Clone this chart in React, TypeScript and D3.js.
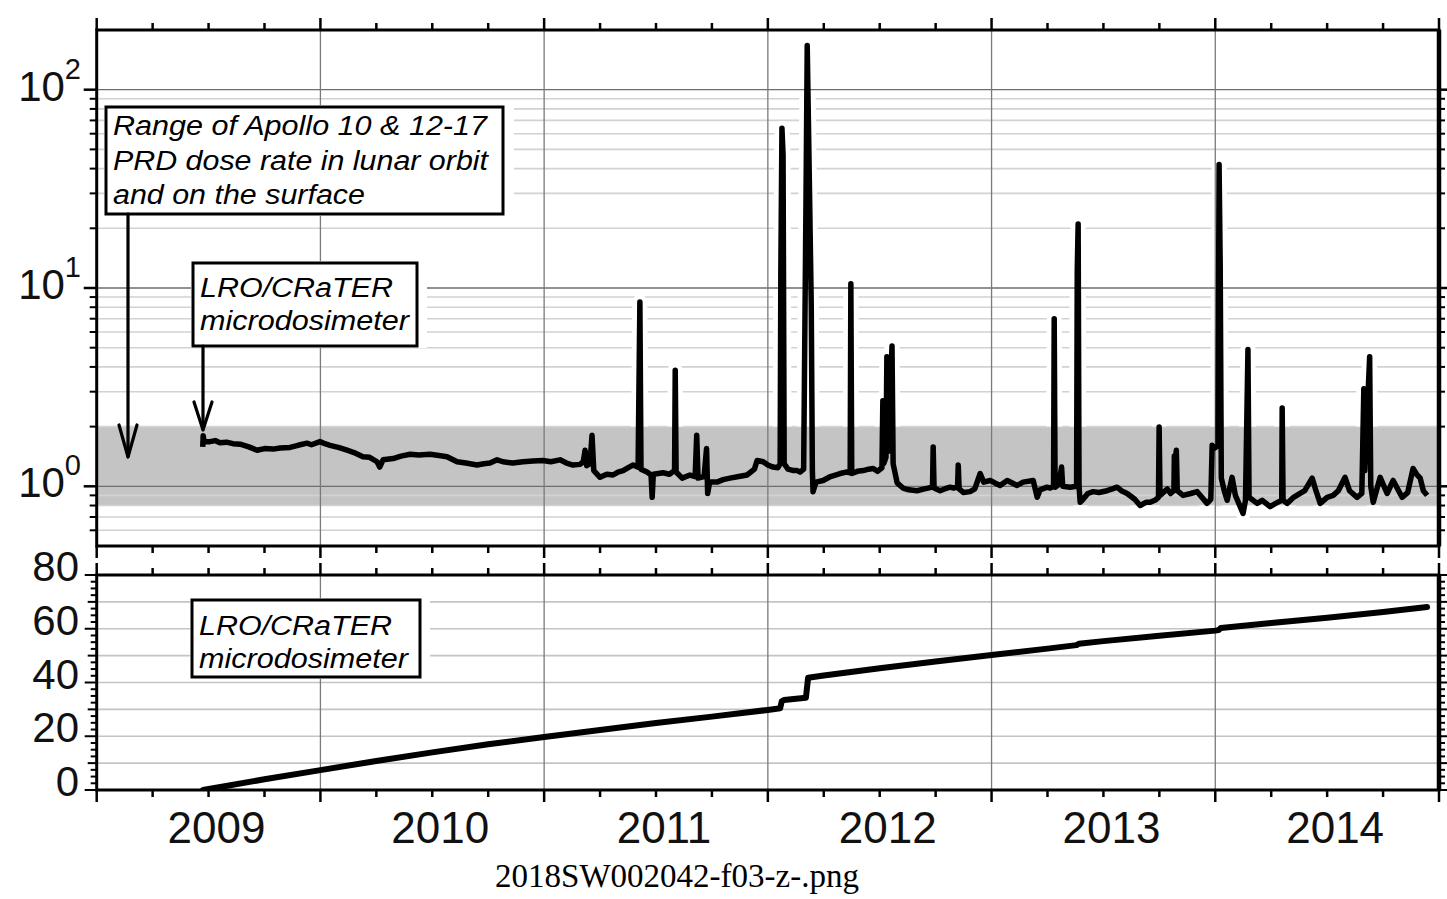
import React from 'react';
import * as d3 from 'd3';

// ---------- data ----------
const yearTicks = [2009, 2010, 2011, 2012, 2013, 2014, 2015];
const yearLabels = ['2009', '2010', '2011', '2012', '2013', '2014'];
const topMajorTicks = [1, 10, 100];
const topTickExponents = ['0', '1', '2'];
const topMinorTicks = [0.6, 0.7, 0.8, 0.9, 2, 3, 4, 5, 6, 7, 8, 9, 20, 30, 40, 50, 60, 70, 80, 90];
const bottomMajorTicks = [0, 20, 40, 60, 80];
const bottomGridValues = [10, 20, 30, 40, 50, 60, 70];
const apolloRange = [0.8, 2.0];

const apolloLines = ['Range of Apollo 10 & 12-17', 'PRD dose rate in lunar orbit', 'and on the surface'];
const craterLines = ['LRO/CRaTER', 'microdosimeter'];
const captionText = '2018SW002042-f03-z-.png';

// [decimal year, dose rate]
const doseRate: [number, number][] = [
  [2009.474, 1.58], [2009.476, 1.8], [2009.48, 1.68], [2009.506, 1.68], [2009.53, 1.7], [2009.551, 1.66],
  [2009.58, 1.67], [2009.609, 1.64], [2009.641, 1.63], [2009.68, 1.58], [2009.717, 1.52], [2009.75, 1.55],
  [2009.788, 1.54], [2009.82, 1.56], [2009.864, 1.57], [2009.9, 1.61], [2009.94, 1.65], [2009.96, 1.62],
  [2009.998, 1.68], [2010.02, 1.64], [2010.043, 1.61], [2010.08, 1.57], [2010.119, 1.52], [2010.15, 1.48],
  [2010.19, 1.41], [2010.22, 1.4], [2010.253, 1.33], [2010.265, 1.25], [2010.28, 1.36], [2010.325, 1.38],
  [2010.36, 1.42], [2010.401, 1.45], [2010.44, 1.44], [2010.49, 1.45], [2010.53, 1.43], [2010.566, 1.41],
  [2010.611, 1.33], [2010.65, 1.31], [2010.7, 1.28], [2010.73, 1.3], [2010.758, 1.31], [2010.79, 1.36],
  [2010.816, 1.33], [2010.86, 1.31], [2010.906, 1.33], [2010.95, 1.34], [2010.995, 1.35], [2011.03, 1.33],
  [2011.071, 1.36], [2011.1, 1.31], [2011.129, 1.28], [2011.16, 1.29], [2011.175, 1.33], [2011.183, 1.52],
  [2011.19, 1.27], [2011.205, 1.3], [2011.214, 1.81], [2011.222, 1.2], [2011.25, 1.11], [2011.28, 1.15],
  [2011.308, 1.14], [2011.33, 1.18], [2011.353, 1.2], [2011.38, 1.25], [2011.398, 1.28], [2011.42, 1.25],
  [2011.428, 8.5], [2011.433, 1.22], [2011.46, 1.18], [2011.478, 1.14], [2011.483, 0.88], [2011.488, 1.15],
  [2011.532, 1.17], [2011.56, 1.15], [2011.583, 1.2], [2011.586, 3.85], [2011.59, 1.18], [2011.617, 1.1],
  [2011.652, 1.14], [2011.675, 1.12], [2011.682, 1.81], [2011.688, 1.1], [2011.715, 1.12], [2011.726, 1.55],
  [2011.731, 0.92], [2011.74, 1.05], [2011.773, 1.05], [2011.8, 1.08], [2011.831, 1.1], [2011.87, 1.12],
  [2011.907, 1.14], [2011.94, 1.22], [2011.952, 1.35], [2011.979, 1.33], [2012.0, 1.28], [2012.023, 1.25],
  [2012.045, 1.24], [2012.055, 1.3], [2012.058, 12], [2012.063, 64], [2012.068, 47], [2012.073, 1.3],
  [2012.09, 1.22], [2012.115, 1.2], [2012.131, 1.2], [2012.144, 1.18], [2012.16, 1.22], [2012.17, 24],
  [2012.176, 167], [2012.186, 32], [2012.194, 8.2], [2012.199, 1.2], [2012.202, 0.94], [2012.215, 1.05],
  [2012.247, 1.07], [2012.28, 1.12], [2012.323, 1.16], [2012.35, 1.18], [2012.368, 1.17], [2012.371, 10.5],
  [2012.375, 1.16], [2012.4, 1.19], [2012.426, 1.2], [2012.45, 1.22], [2012.471, 1.23], [2012.49, 1.19],
  [2012.51, 1.24], [2012.514, 2.7], [2012.518, 1.3], [2012.528, 1.4], [2012.532, 4.5], [2012.537, 1.5],
  [2012.555, 5.1], [2012.56, 1.3], [2012.578, 1.04], [2012.604, 0.98], [2012.63, 0.96], [2012.667, 0.95],
  [2012.7, 0.97], [2012.736, 0.99], [2012.739, 1.58], [2012.743, 0.98], [2012.77, 0.95], [2012.79, 0.97],
  [2012.814, 0.99], [2012.83, 0.98], [2012.848, 0.99], [2012.851, 1.28], [2012.855, 0.97], [2012.875, 0.93],
  [2012.904, 0.94], [2012.925, 0.97], [2012.949, 1.16], [2012.965, 1.05], [2012.994, 1.07], [2013.015, 1.04],
  [2013.038, 1.01], [2013.07, 1.07], [2013.114, 1.01], [2013.141, 1.05], [2013.186, 1.07], [2013.204, 0.88],
  [2013.217, 0.96], [2013.248, 0.99], [2013.262, 0.98], [2013.277, 1.0], [2013.28, 7.0], [2013.284, 0.99],
  [2013.3, 1.02], [2013.313, 1.25], [2013.318, 1.0], [2013.351, 0.99], [2013.38, 1.0], [2013.383, 12.3],
  [2013.387, 21], [2013.391, 1.0], [2013.396, 0.83], [2013.409, 0.86], [2013.43, 0.92], [2013.454, 0.94],
  [2013.48, 0.93], [2013.516, 0.95], [2013.54, 0.97], [2013.561, 0.99], [2013.58, 0.95], [2013.606, 0.92],
  [2013.64, 0.86], [2013.664, 0.8], [2013.69, 0.83], [2013.709, 0.83], [2013.73, 0.85], [2013.746, 0.88],
  [2013.749, 1.99], [2013.753, 0.9], [2013.785, 0.97], [2013.8, 0.92], [2013.815, 0.95], [2013.817, 1.42],
  [2013.822, 1.4], [2013.826, 1.52], [2013.83, 0.95], [2013.856, 0.9], [2013.89, 0.92], [2013.919, 0.94],
  [2013.94, 0.88], [2013.963, 0.82], [2013.98, 0.86], [2013.986, 1.61], [2013.992, 1.55], [2014.012, 1.6],
  [2014.017, 42], [2014.022, 13], [2014.027, 1.1], [2014.04, 0.95], [2014.053, 0.85], [2014.075, 1.11],
  [2014.09, 0.9], [2014.124, 0.73], [2014.135, 0.85], [2014.146, 4.9], [2014.151, 0.88], [2014.187, 0.82],
  [2014.21, 0.85], [2014.245, 0.79], [2014.27, 0.82], [2014.297, 0.85], [2014.299, 2.48], [2014.303, 0.85],
  [2014.321, 0.82], [2014.35, 0.88], [2014.379, 0.92], [2014.4, 0.95], [2014.433, 1.1], [2014.45, 0.95],
  [2014.469, 0.82], [2014.5, 0.88], [2014.527, 0.9], [2014.55, 0.95], [2014.58, 1.11], [2014.6, 0.95],
  [2014.634, 0.88], [2014.655, 0.92], [2014.664, 3.1], [2014.668, 1.2], [2014.69, 4.5], [2014.695, 1.0],
  [2014.706, 0.83], [2014.737, 1.11], [2014.768, 0.92], [2014.795, 1.07], [2014.835, 0.88], [2014.86, 0.93],
  [2014.884, 1.23], [2014.9, 1.15], [2014.916, 1.1], [2014.93, 0.95], [2014.947, 0.9],
];

// [decimal year, cumulative dose]
const cumulativeDose: [number, number][] = [
  [2009.475, 0], [2009.75, 4.0], [2010.0, 7.4], [2010.25, 10.8], [2010.5, 14.0], [2010.75, 17.0],
  [2011.0, 19.7], [2011.25, 22.3], [2011.5, 24.9], [2011.75, 27.3], [2012.0, 29.8], [2012.055, 30.4],
  [2012.062, 33.0], [2012.072, 33.5], [2012.17, 34.3], [2012.18, 41.8], [2012.25, 42.6], [2012.5, 45.3],
  [2012.75, 47.8], [2013.0, 50.2], [2013.25, 52.6], [2013.38, 53.9], [2013.39, 54.4], [2013.5, 55.4],
  [2013.75, 57.4], [2014.0, 59.3], [2014.015, 59.5], [2014.025, 60.3], [2014.25, 62.1], [2014.5, 64.1],
  [2014.75, 66.2], [2014.947, 68.1],
];

// ---------- layout ----------
const W = 1447;
const H = 899;
const X0 = 96.7;
const X1 = 1439;
const TOP_Y0 = 30;
const TOP_Y1 = 546;
const BOT_Y0 = 575;
const BOT_Y1 = 790;
const SANS = '"Liberation Sans", Arial, sans-serif';

export default function App() {
  const x = d3.scaleLinear().domain([2009, 2015]).range([X0, X1]);
  const yTop = d3.scaleLog().domain([0.5, 200]).range([TOP_Y1, TOP_Y0]);
  const yBot = d3.scaleLinear().domain([0, 80]).range([BOT_Y1, BOT_Y0]);

  const topLine = d3.line<[number, number]>().x((d) => x(d[0])).y((d) => yTop(d[1]));
  const botLine = d3.line<[number, number]>().x((d) => x(d[0])).y((d) => yBot(d[1]));
  const topPath = topLine(doseRate) || '';
  const botPath = botLine(cumulativeDose) || '';

  const quarters = d3.range(2009, 2015.001, 0.25);
  const isYear = (q: number) => Math.abs(q - Math.round(q)) < 1e-6;
  const innerYears = yearTicks.filter((v) => v > 2009 && v < 2015);
  const botMinor = d3.range(0, 80.001, 2.5);

  const bandTop = yTop(apolloRange[1]);
  const bandBot = yTop(apolloRange[0]);

  const textStyle = { fontFamily: SANS, fontStyle: 'italic' as const, fontSize: 27 };

  return (
    <svg
      width={W}
      height={H}
      viewBox={`0 0 ${W} ${H}`}
      style={{ position: 'absolute', left: 0, top: 0, background: '#fff' }}
    >
      <defs>
        <clipPath id="topClip">
          <rect x={X0} y={TOP_Y0} width={X1 - X0} height={TOP_Y1 - TOP_Y0} />
        </clipPath>
        <clipPath id="haloClip">
          <rect x={X0} y={TOP_Y0} width={X1 - X0} height={bandTop - TOP_Y0} />
          <rect x={X0} y={bandBot} width={X1 - X0} height={TOP_Y1 - bandBot} />
        </clipPath>
        <clipPath id="botClip">
          <rect x={X0} y={BOT_Y0} width={X1 - X0} height={BOT_Y1 - BOT_Y0} />
        </clipPath>
      </defs>
      <rect x={0} y={0} width={W} height={H} fill="#fff" />

      {/* ===== TOP PANEL ===== */}
      <rect x={X0} y={bandTop} width={X1 - X0} height={bandBot - bandTop} fill="#c4c4c4" />
      {topMinorTicks.map((v) => (
        <line key={'tm' + v} x1={X0} x2={X1} y1={yTop(v)} y2={yTop(v)} stroke="#d2d2d2" strokeWidth={1.6} />
      ))}
      <path d={topPath} fill="none" stroke="#fff" strokeWidth={15} strokeLinejoin="round" clipPath="url(#haloClip)" />
      {topMajorTicks.map((v) => (
        <line key={'tM' + v} x1={X0} x2={X1} y1={yTop(v)} y2={yTop(v)} stroke="#6e6e6e" strokeWidth={1.3} />
      ))}
      {innerYears.map((v) => (
        <line key={'tv' + v} x1={x(v)} x2={x(v)} y1={TOP_Y0} y2={TOP_Y1} stroke="#7a7a7a" strokeWidth={1.3} />
      ))}

      {/* annotation boxes (top) */}
      <rect x={104} y={105} width={410} height={111} fill="#fff" />
      <rect x={106} y={107} width={397} height={107} fill="#fff" stroke="#000" strokeWidth={3} />
      {apolloLines.map((t, i) => (
        <text
          key={'ap' + i}
          x={113}
          y={135 + i * 34.5}
          {...textStyle}
          textLength={[374, 375, 252][i]}
          lengthAdjust="spacingAndGlyphs"
        >
          {t}
        </text>
      ))}
      <rect x={191} y={261} width={236} height={87} fill="#fff" />
      <rect x={193} y={263} width={224} height={83} fill="#fff" stroke="#000" strokeWidth={3} />
      {craterLines.map((t, i) => (
        <text
          key={'ct' + i}
          x={200}
          y={297 + i * 33}
          {...textStyle}
          textLength={[193, 209][i]}
          lengthAdjust="spacingAndGlyphs"
        >
          {t}
        </text>
      ))}

      {/* data */}
      <path
        d={topPath}
        fill="none"
        stroke="#000"
        strokeWidth={5.5}
        strokeLinejoin="round"
        clipPath="url(#topClip)"
      />

      {/* arrows */}
      <g stroke="#000" strokeWidth={3.2} fill="none" strokeLinecap="round" strokeLinejoin="round">
        <line x1={128} y1={214} x2={128} y2={456} />
        <polyline points="119,425 128,457 137,425" />
        <line x1={203} y1={346} x2={203} y2={429} />
        <polyline points="194,402 203,430 212,402" />
      </g>

      {/* top frame */}
      <rect x={X0} y={TOP_Y0} width={X1 - X0} height={TOP_Y1 - TOP_Y0} fill="none" stroke="#000" strokeWidth={3} />
      <line x1={X1} x2={X1} y1={TOP_Y0} y2={TOP_Y1} stroke="#000" strokeWidth={4.5} />
      {quarters.map((q) => {
        const L = isYear(q) ? 12 : 7;
        return (
          <g key={'tq' + q} stroke="#000" strokeWidth={2.5}>
            <line x1={x(q)} x2={x(q)} y1={TOP_Y0} y2={TOP_Y0 - L} />
            <line x1={x(q)} x2={x(q)} y1={TOP_Y1} y2={TOP_Y1 + L} />
          </g>
        );
      })}
      {topMajorTicks.map((v) => (
        <g key={'tyM' + v} stroke="#000" strokeWidth={2.5}>
          <line x1={X0} x2={X0 - 13} y1={yTop(v)} y2={yTop(v)} />
          <line x1={X1} x2={X1 + 9} y1={yTop(v)} y2={yTop(v)} />
        </g>
      ))}
      {topMinorTicks.map((v) => (
        <g key={'tym' + v} stroke="#000" strokeWidth={2}>
          <line x1={X0} x2={X0 - 7} y1={yTop(v)} y2={yTop(v)} />
          <line x1={X1} x2={X1 + 6} y1={yTop(v)} y2={yTop(v)} />
        </g>
      ))}
      {topMajorTicks.map((v, i) => (
        <text key={'tyl' + v} x={81} y={yTop(v) + 11} textAnchor="end" fontFamily={SANS} fontSize={42} fill="#111">
          <tspan>10</tspan>
          <tspan dy={-22} fontSize={29}>
            {topTickExponents[i]}
          </tspan>
        </text>
      ))}

      {/* ===== BOTTOM PANEL ===== */}
      {bottomGridValues.map((v) => (
        <line key={'bg' + v} x1={X0} x2={X1} y1={yBot(v)} y2={yBot(v)} stroke="#c4c4c4" strokeWidth={1.6} />
      ))}
      {innerYears.map((v) => (
        <line key={'bv' + v} x1={x(v)} x2={x(v)} y1={BOT_Y0} y2={BOT_Y1} stroke="#7a7a7a" strokeWidth={1.3} />
      ))}
      <rect x={190} y={598} width={240} height={81} fill="#fff" />
      <rect x={192} y={600} width={228} height={77} fill="#fff" stroke="#000" strokeWidth={3} />
      {craterLines.map((t, i) => (
        <text
          key={'cb' + i}
          x={199}
          y={635 + i * 33}
          {...textStyle}
          textLength={[193, 209][i]}
          lengthAdjust="spacingAndGlyphs"
        >
          {t}
        </text>
      ))}
      <path
        d={botPath}
        fill="none"
        stroke="#000"
        strokeWidth={6}
        strokeLinejoin="round"
        strokeLinecap="round"
        clipPath="url(#botClip)"
      />
      <rect x={X0} y={BOT_Y0} width={X1 - X0} height={BOT_Y1 - BOT_Y0} fill="none" stroke="#000" strokeWidth={3} />
      <line x1={X1} x2={X1} y1={BOT_Y0} y2={BOT_Y1} stroke="#000" strokeWidth={4.5} />
      {quarters.map((q) => {
        const L = isYear(q) ? 12 : 7;
        return (
          <g key={'bq' + q} stroke="#000" strokeWidth={2.5}>
            <line x1={x(q)} x2={x(q)} y1={BOT_Y0} y2={BOT_Y0 - L} />
            <line x1={x(q)} x2={x(q)} y1={BOT_Y1} y2={BOT_Y1 + L} />
          </g>
        );
      })}
      {botMinor.map((v) => {
        const L = v % 20 === 0 ? 12 : v % 10 === 0 ? 9 : 6;
        return (
          <g key={'by' + v} stroke="#000" strokeWidth={2}>
            <line x1={X0} x2={X0 - L} y1={yBot(v)} y2={yBot(v)} />
            <line x1={X1} x2={X1 + Math.min(L, 8)} y1={yBot(v)} y2={yBot(v)} />
          </g>
        );
      })}
      {bottomMajorTicks.map((v) => (
        <text key={'byl' + v} x={79} y={yBot(v) + 6} textAnchor="end" fontFamily={SANS} fontSize={42} fill="#111">
          {String(v)}
        </text>
      ))}
      {yearLabels.map((t, i) => (
        <text
          key={'xl' + t}
          x={x(yearTicks[i] + 0.5) + 8}
          y={843}
          textAnchor="middle"
          fontFamily={SANS}
          fontSize={44}
          fill="#111"
        >
          {t}
        </text>
      ))}

      {/* caption */}
      <text x={677} y={887} textAnchor="middle" fontFamily='"Liberation Serif", "Times New Roman", serif' fontSize={33} fill="#000">
        {captionText}
      </text>
    </svg>
  );
}
